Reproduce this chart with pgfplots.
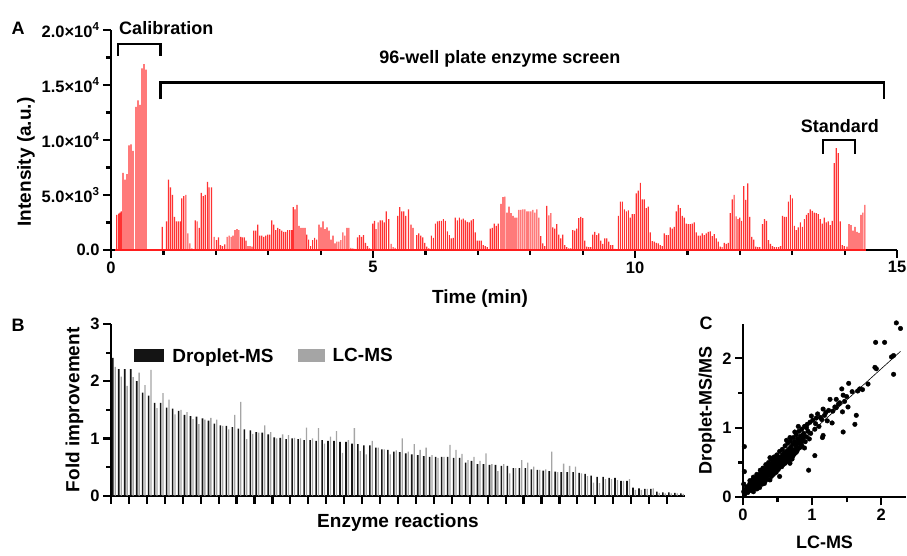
\documentclass[border=0pt]{standalone}
\usepackage{fontspec}
\setmainfont{Liberation Sans}
\usepackage{pgfplots}
\usepackage{pgfplotstable}
\pgfplotsset{compat=1.18}

\definecolor{barred}{RGB}{255,30,30}
\definecolor{barpink}{RGB}{255,50,50}
\definecolor{lcgray}{RGB}{165,165,165}
\definecolor{dropblack}{RGB}{20,20,20}

\pgfplotsset{prism/.style={
  scale only axis,
  axis lines=left,
  axis line style={line width=2.2pt,-},
  tick style={line width=2.2pt,black},
  major tick length=8pt,
  minor tick length=5pt,
  tick align=outside,
  tick label style={font=\fontsize{16.5}{18}\selectfont\bfseries},
  label style={font=\fontsize{19}{21}\selectfont\bfseries},
  /pgf/number format/assume math mode=true,
  clip=false,
}}

% panel B: fold improvement per reaction
\pgfplotstableread{
i d l
1 2.41 2.25
2 2.21 2.08
3 2.21 1.92
4 2.21 2.07
5 2.00 2.15
6 1.80 1.93
7 1.75 2.20
8 1.62 1.53
9 1.62 1.79
10 1.54 1.68
11 1.52 1.42
12 1.48 1.50
13 1.41 1.46
14 1.39 1.34
15 1.38 1.25
16 1.35 1.33
17 1.31 1.36
18 1.26 1.33
19 1.23 1.22
20 1.22 1.16
21 1.20 1.41
22 1.17 1.64
23 1.16 0.99
24 1.14 1.08
25 1.11 1.10
26 1.10 1.23
27 1.07 1.11
28 1.02 1.00
29 1.01 1.07
30 0.99 1.06
31 1.00 1.01
32 0.99 1.00
33 0.97 1.19
34 0.97 1.00
35 0.96 1.18
36 0.97 0.91
37 0.96 1.03
38 0.96 1.13
39 0.94 0.75
40 0.94 0.97
41 0.91 1.18
42 0.90 0.78
43 0.88 0.72
44 0.88 0.96
45 0.84 0.84
46 0.81 0.81
47 0.80 0.72
48 0.77 0.79
49 0.76 1.00
50 0.74 0.77
51 0.72 0.90
52 0.71 0.80
53 0.69 0.84
54 0.68 0.71
55 0.68 0.66
56 0.68 0.68
57 0.68 0.89
58 0.66 0.80
59 0.66 0.73
60 0.58 0.62
61 0.61 0.68
62 0.55 0.61
63 0.55 0.74
64 0.54 0.55
65 0.54 0.43
66 0.52 0.55
67 0.52 0.39
68 0.48 0.48
69 0.48 0.62
70 0.48 0.58
71 0.46 0.51
72 0.45 0.45
73 0.44 0.46
74 0.43 0.77
75 0.42 0.41
76 0.41 0.56
77 0.41 0.52
78 0.41 0.51
79 0.40 0.39
80 0.38 0.34
81 0.35 0.23
82 0.33 0.22
83 0.33 0.29
84 0.31 0.29
85 0.31 0.27
86 0.26 0.26
87 0.26 0.29
88 0.14 0.10
89 0.13 0.10
90 0.12 0.12
91 0.12 0.13
92 0.07 0.05
93 0.06 0.04
94 0.06 0.04
95 0.05 0.04
96 0.04 0.03
}\foldtable

\begin{document}
\begin{tikzpicture}
\useasboundingbox (0,0) rectangle (907pt,556pt);

%---------------- A ----------------
\begin{axis}[prism,
  at={(111pt,306pt)}, anchor=south west,
  width=786pt, height=220pt,
  xmin=0, xmax=15, ymin=0, ymax=20000,
  xtick={0,5,10,15}, minor x tick num=4,
  ytick={0,5000,10000,15000,20000}, minor y tick num=1,
  scaled y ticks=false,
  yticklabels={0.0,5.0×10\textsuperscript{3},1.0×10\textsuperscript{4},1.5×10\textsuperscript{4},2.0×10\textsuperscript{4}},
  xlabel={Time (min)}, ylabel={Intensity (a.u.)},
  xlabel style={xshift=-24pt, yshift=-10pt},
  ylabel style={at={(ticklabel cs:0.4)}},
]
% calibration injections
\addplot[ybar, bar width=1.2pt, bar shift=0pt, fill=barpink, draw=none, mark=none] table {
t I
0.108 3200
0.146 3300
0.171 3400
0.197 3500
0.229 7000
0.267 6400
0.305 6900
0.343 9500
0.381 9600
0.420 9000
0.476 13000
0.514 13600
0.552 13200
0.590 16500
0.629 16900
0.667 16400
};
% plate screen
\addplot[ybar, bar width=1.2pt, bar shift=0pt, fill=barpink, draw=none, mark=none] table {
t I
0.978 2100
1.060 2600
1.098 6400
1.137 5700
1.175 5000
1.213 3000
1.251 2600
1.289 2600
1.327 2600
1.352 4700
1.390 4900
1.429 5000
1.467 1500
1.505 600
1.543 150
1.606 2700
1.644 2600
1.683 2000
1.721 5200
1.759 4900
1.797 5000
1.841 6200
1.873 5700
1.917 5700
1.968 1200
2.013 900
2.051 1150
2.089 450
2.127 350
2.171 500
2.216 1200
2.254 1300
2.292 1200
2.330 1300
2.368 1800
2.406 1900
2.440 1800
2.475 1200
2.510 1150
2.545 1150
2.578 850
2.616 350
2.654 350
2.692 300
2.724 1750
2.762 1750
2.800 2300
2.838 1300
2.876 1300
2.914 1200
2.952 1300
2.990 1400
3.029 1400
3.067 2700
3.105 2300
3.143 1800
3.181 2000
3.219 1900
3.257 1750
3.295 1650
3.333 1650
3.371 1800
3.410 1800
3.448 1800
3.478 3900
3.511 3700
3.549 4100
3.587 2200
3.625 2000
3.663 2000
3.702 2000
3.737 1400
3.771 950
3.810 350
3.848 900
3.886 1100
3.924 950
3.968 2300
4.006 2050
4.044 2600
4.083 1900
4.121 2050
4.159 1750
4.197 950
4.235 1300
4.273 600
4.311 750
4.349 750
4.387 900
4.425 1600
4.463 1300
4.502 2000
4.540 2000
4.578 200
4.616 150
4.654 100
4.705 1150
4.743 1350
4.781 1200
4.819 1350
4.857 650
4.895 350
4.933 150
4.997 2400
5.029 2650
5.060 1900
5.098 2500
5.137 2700
5.175 2700
5.213 2500
5.251 3500
5.302 2800
5.346 550
5.384 250
5.422 200
5.473 3100
5.511 3900
5.549 3500
5.587 3500
5.625 3100
5.676 3700
5.727 2300
5.765 2000
5.835 1350
5.873 1500
5.911 1300
5.949 1150
5.987 650
6.025 300
6.063 150
6.114 1300
6.152 1100
6.190 2400
6.229 2600
6.267 2650
6.305 2650
6.343 2800
6.381 2650
6.419 1700
6.457 1350
6.495 1050
6.533 1100
6.571 2950
6.610 2700
6.648 2950
6.686 2750
6.724 2850
6.762 2700
6.800 2550
6.838 2500
6.876 2700
6.914 2800
6.952 1600
6.990 850
7.029 850
7.067 850
7.105 450
7.143 350
7.181 250
7.238 1950
7.276 2000
7.314 2400
7.352 2200
7.390 2400
7.441 4200
7.479 4800
7.517 4850
7.556 3400
7.594 3950
7.632 3350
7.670 3100
7.708 2950
7.746 2950
7.784 3650
7.822 3650
7.860 3700
7.898 3700
7.937 3500
7.975 3500
8.013 3500
8.051 3650
8.089 3400
8.127 3700
8.165 2950
8.203 1250
8.241 600
8.279 350
8.317 4000
8.356 3150
8.394 3350
8.432 2050
8.470 1950
8.508 2350
8.546 1400
8.584 1050
8.622 1400
8.660 450
8.698 250
8.737 150
8.775 150
8.813 1800
8.851 1750
8.889 1950
8.927 2900
8.965 3000
9.003 2900
9.041 850
9.079 300
9.117 250
9.156 250
9.194 1400
9.232 1650
9.270 1350
9.308 1500
9.346 850
9.384 550
9.422 1050
9.460 1050
9.498 750
9.537 450
9.575 450
9.619 100
9.683 3100
9.721 4400
9.759 4400
9.797 3700
9.835 3500
9.873 3600
9.911 2950
9.949 3250
9.987 3250
10.025 5150
10.063 5400
10.102 6100
10.140 4600
10.178 4600
10.216 3800
10.254 3950
10.292 1600
10.330 800
10.368 750
10.406 650
10.444 600
10.483 450
10.521 350
10.559 1500
10.597 1350
10.635 1350
10.673 2050
10.711 1950
10.749 2100
10.787 3500
10.825 4100
10.863 3800
10.902 3100
10.940 2950
10.978 2400
11.016 2350
11.054 2350
11.092 2400
11.130 2500
11.168 1600
11.206 1300
11.244 1300
11.283 1500
11.321 1350
11.359 1500
11.397 1650
11.435 1700
11.473 1250
11.511 1450
11.549 1050
11.587 750
11.625 300
11.663 250
11.702 650
11.740 550
11.778 650
11.816 3350
11.854 4600
11.892 5000
11.930 3050
11.965 2800
12.000 2950
12.035 2650
12.076 5800
12.114 4550
12.152 6050
12.190 3000
12.229 1200
12.267 950
12.305 300
12.343 250
12.381 250
12.432 2350
12.470 2800
12.508 2650
12.546 900
12.584 550
12.622 350
12.660 250
12.698 250
12.737 250
12.775 350
12.813 3100
12.851 3000
12.889 3000
12.927 4400
12.965 5000
13.003 4700
13.041 2200
13.079 1800
13.117 2050
13.156 2500
13.194 2100
13.232 2800
13.270 3200
13.308 3350
13.346 3700
13.384 3550
13.422 3400
13.460 3350
13.498 3250
13.537 2800
13.575 2400
13.613 2950
13.651 2500
13.689 2600
13.727 2250
13.765 2650
13.803 7900
13.841 9250
13.879 8800
13.917 2600
13.956 450
13.994 350
14.044 300
14.083 2350
14.121 2250
14.159 1750
14.197 2100
14.235 1650
14.273 1550
14.311 3200
14.349 3400
14.387 4100
};
\addplot[barred, line width=1.3pt, mark=none] coordinates {(0.08,0) (14.40,0)};

\draw[line width=2.6pt] (axis cs:0.13,17640) |- (axis cs:0.95,18730) -- (axis cs:0.95,17640);
\node[anchor=west, font=\fontsize{18}{20}\selectfont\bfseries] at (axis cs:0.09,20180) {Calibration};
\draw[line width=2.6pt] (axis cs:0.95,13700) |- (axis cs:14.75,15240) -- (axis cs:14.75,13700);
\node[font=\fontsize{18}{20}\selectfont\bfseries] at (axis cs:7.42,17360) {96-well plate enzyme screen};
\draw[line width=2.6pt] (axis cs:13.59,8730) |- (axis cs:14.2,10000) -- (axis cs:14.2,8730);
\node[font=\fontsize{18}{20}\selectfont\bfseries] at (axis cs:13.91,11300) {Standard};
\end{axis}

%---------------- B ----------------
\begin{axis}[prism,
  at={(111pt,60.3pt)}, anchor=south west,
  width=574pt, height=171.7pt,
  xmin=0.5, xmax=96.5, ymin=0, ymax=3,
  xtick={0.5,3.5,...,93.5}, xticklabels={},
  ytick={0,1,2,3}, minor y tick num=1,
  xlabel={Enzyme reactions}, ylabel={Fold improvement},
  legend columns=2,
  legend style={draw=none, fill=none, at={(0.035,0.814)}, anchor=west,
    font=\fontsize{19}{21}\selectfont\bfseries,
    /tikz/every even column/.append style={column sep=22pt}},
]
\addplot[ybar, bar width=1.6pt, bar shift=-1.2pt, fill=dropblack, draw=none,
  legend image code/.code={\fill[dropblack] (0pt,-6.5pt) rectangle (30pt,6.5pt); \path (36pt,0pt);}]
  table[x=i, y=d] {\foldtable};
\addlegendentry{Droplet-MS}
\addplot[ybar, bar width=1.3pt, bar shift=1.2pt, fill=lcgray, draw=none,
  legend image code/.code={\fill[lcgray] (0pt,-6.5pt) rectangle (27pt,6.5pt); \path (33pt,0pt);}]
  table[x=i, y=l] {\foldtable};
\addlegendentry{LC-MS}
\end{axis}

%---------------- C ----------------
\begin{axis}[prism,
  at={(743pt,58.7pt)}, anchor=south west,
  width=163pt, height=173.7pt,
  xmin=0, xmax=2.36, ymin=0, ymax=2.5,
  xtick={0,1,2}, minor x tick num=1,
  ytick={0,1,2}, minor y tick num=1,
  xlabel={LC-MS}, ylabel={Droplet-MS/MS},
  xlabel style={yshift=-9pt},
  label style={font=\fontsize{18}{20}\selectfont\bfseries},
]
\addplot[only marks, mark=*, mark size=2.3pt, black] table {
x y
2.22 2.51
2.28 2.43
2.05 2.23
1.92 2.23
2.18 2.04
2.15 2.02
1.91 1.87
1.93 1.85
2.18 1.77
1.81 1.63
1.69 1.56
1.73 1.55
1.53 1.64
1.43 1.56
1.45 1.47
1.35 1.41
1.26 1.41
1.33 1.30
1.38 1.34
1.52 1.30
1.44 1.23
1.64 1.18
1.62 1.05
1.45 0.94
1.29 1.07
1.16 1.27
1.18 1.18
1.14 1.12
1.06 1.14
0.99 1.17
1.10 1.02
1.04 0.98
1.16 0.89
1.15 0.86
1.04 0.60
0.95 0.39
0.80 1.02
0.75 0.94
0.92 1.00
0.87 0.90
0.68 0.86
0.63 0.82
0.85 0.81
0.77 0.73
0.89 0.71
0.68 0.69
0.60 0.64
0.53 0.57
0.46 0.52
0.39 0.57
0.58 0.47
0.48 0.42
0.34 0.40
0.27 0.35
0.22 0.30
0.14 0.25
0.10 0.20
0.05 0.15
0.01 0.08
0.02 0.73
0.02 0.37
0.01 0.19
0.04 0.11
0.39 0.25
0.31 0.20
0.53 0.30
0.68 0.49
0.72 0.59
0.03 0.05
0.05 0.10
0.06 0.13
0.08 0.09
0.09 0.17
0.10 0.14
0.11 0.12
0.12 0.19
0.13 0.16
0.14 0.22
0.15 0.13
0.16 0.20
0.17 0.25
0.18 0.18
0.19 0.23
0.20 0.28
0.21 0.21
0.22 0.26
0.23 0.31
0.24 0.20
0.25 0.34
0.26 0.27
0.27 0.30
0.28 0.38
0.29 0.24
0.30 0.33
0.31 0.29
0.32 0.40
0.33 0.35
0.34 0.28
0.35 0.43
0.36 0.37
0.37 0.33
0.38 0.46
0.39 0.40
0.40 0.35
0.41 0.48
0.42 0.44
0.43 0.38
0.44 0.52
0.45 0.46
0.46 0.41
0.47 0.55
0.48 0.49
0.49 0.43
0.50 0.53
0.51 0.47
0.52 0.58
0.53 0.50
0.54 0.44
0.55 0.56
0.56 0.52
0.57 0.61
0.58 0.55
0.59 0.49
0.60 0.63
0.61 0.57
0.62 0.53
0.63 0.66
0.64 0.60
0.65 0.56
0.66 0.69
0.67 0.62
0.68 0.58
0.69 0.72
0.70 0.66
0.71 0.61
0.72 0.76
0.74 0.68
0.75 0.80
0.76 0.64
0.78 0.73
0.79 0.84
0.80 0.70
0.82 0.78
0.83 0.88
0.85 0.75
0.86 0.83
0.88 0.92
0.90 0.80
0.92 0.87
0.94 0.95
0.96 0.84
0.98 0.92
0.07 0.07
0.12 0.10
0.16 0.15
0.19 0.16
0.22 0.19
0.25 0.25
0.27 0.22
0.30 0.27
0.33 0.30
0.35 0.32
0.38 0.36
0.40 0.41
0.43 0.45
0.45 0.40
0.47 0.47
0.50 0.45
0.52 0.52
0.55 0.50
0.57 0.57
0.60 0.54
0.62 0.60
0.65 0.63
0.68 0.66
0.70 0.70
0.73 0.67
0.77 0.77
0.81 0.82
0.84 0.80
0.87 0.86
0.15 0.08
0.20 0.12
0.24 0.14
0.28 0.19
0.32 0.23
0.36 0.26
0.41 0.30
0.44 0.33
0.48 0.36
0.51 0.40
0.56 0.44
0.61 0.49
0.64 0.52
0.67 0.54
0.71 0.55
0.74 0.62
0.78 0.66
0.83 0.72
0.10 0.24
0.15 0.29
0.20 0.33
0.25 0.39
0.29 0.42
0.33 0.47
0.37 0.50
0.41 0.54
0.45 0.58
0.49 0.61
0.53 0.66
0.57 0.69
0.61 0.74
0.65 0.78
0.69 0.81
0.73 0.86
0.77 0.90
0.81 0.95
0.85 0.98
0.89 1.02
0.93 1.05
0.97 1.08
1.01 1.11
1.05 1.06
1.08 1.20
1.12 1.15
1.20 1.22
1.22 1.10
1.24 1.25
1.30 1.24
1.35 1.29
1.40 1.36
1.47 1.38
1.50 1.45
1.58 1.52
1.66 1.53
};
\addplot[black, line width=0.6pt, mark=none] coordinates {(0.02,0.07) (2.28,2.10)};
\end{axis}

\node[font=\fontsize{18}{20}\selectfont\bfseries] at (18pt,528pt) {A};
\node[font=\fontsize{18}{20}\selectfont\bfseries] at (18pt,231pt) {B};
\node[font=\fontsize{18}{20}\selectfont\bfseries] at (706pt,233pt) {C};
\end{tikzpicture}
\end{document}
